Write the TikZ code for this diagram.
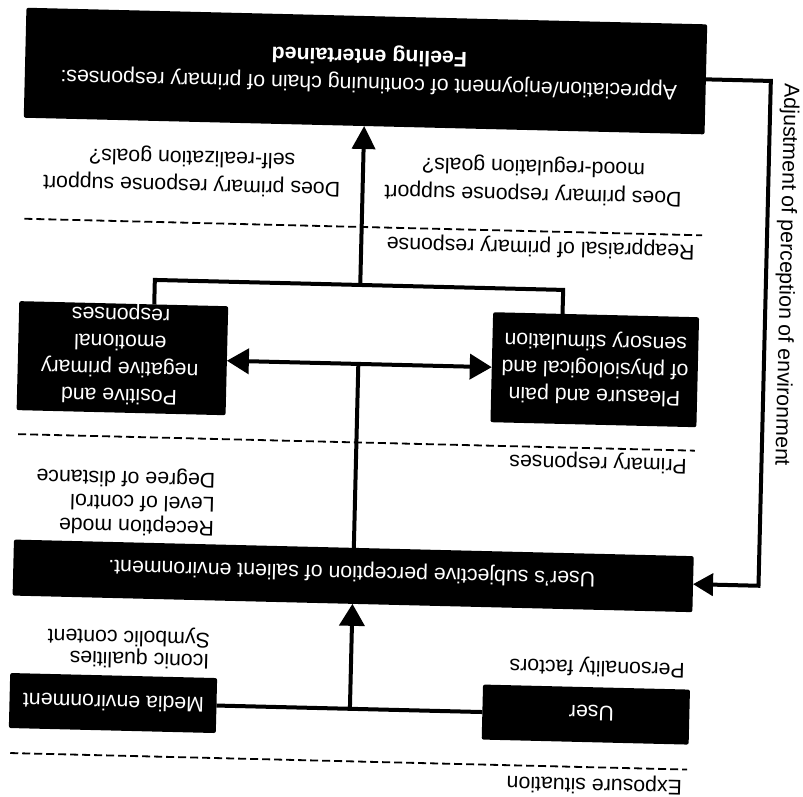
\documentclass[tikz,border=0pt]{standalone}
\usepackage{fontspec}
\setmainfont{Liberation Sans}
\usetikzlibrary{arrows.meta,calc}
\tikzset{
  blkbox/.style={fill=black, rounded corners=2pt, inner sep=0pt, outer sep=0pt},
  boxtext/.style={text=white, inner sep=0pt, align=center, rotate=180, font=\fontsize{21.3}{27}\selectfont},
  lbl/.style={inner sep=0pt, rotate=180, font=\fontsize{21.3}{27}\selectfont},
  conn/.style={line width=4pt},
  sepline/.style={line width=1.8pt, dash pattern=on 8pt off 4pt},
  bigtip/.style={-{Triangle[length=23pt,width=23pt]}},
}
\begin{document}
\begin{tikzpicture}[x=1pt,y=1pt]
\fill[white] (0,0) rectangle (803,-797);
\useasboundingbox (0,0) rectangle (803,-797);
\begin{scope}[rotate around={-1.4:(401.5,-398.5)}, transform shape]
  % boxes
  \node[blkbox, minimum width=681pt, minimum height=110pt] (top) at (357.5,-72) {};
  \node[blkbox, minimum width=209pt, minimum height=109pt] (left) at (121.5,-365) {};
  \node[blkbox, minimum width=206pt, minimum height=110pt] (right) at (594,-365) {};
  \node[blkbox, minimum width=680pt, minimum height=56pt] (subj) at (357.5,-577) {};
  \node[blkbox, minimum width=207pt, minimum height=55pt] (media) at (120.5,-710) {};
  \node[blkbox, minimum width=207pt, minimum height=55pt] (user) at (593.5,-710) {};
  % box texts
  \node[boxtext, font=\fontsize{21.3}{28}\selectfont] (toptxt) at (361,-70) {Appreciation/enjoyment of continuing chain of primary responses:\\\textbf{Feeling entertained}};
  \node[boxtext] (lefttxt) at (119,-361) {Positive and\\negative primary\\emotional\\responses};
  \node[boxtext] (righttxt) at (594.3,-363.3) {Pleasure and pain\\of physiological and\\sensory stimulation};
  \node[boxtext] (subjtxt) at (356,-573) {User's subjective perception of salient environment.};
  \node[boxtext] (mediatxt) at (121,-710) {Media environment};
  \node[boxtext] (usertxt) at (599,-708) {User};
  % separators
  \draw[sepline] (20,-228) -- (698,-228);
  \draw[sepline] (19,-443.5) -- (696,-443.5);
  \draw[sepline] (19,-762.5) -- (696,-762.5);
  % labels
  \node[lbl, align=center, font=\fontsize{21.3}{28}\selectfont] (q1) at (186.5,-176) {Does primary response support\\self-realization goals?};
  \node[lbl, align=center, font=\fontsize{21.3}{28}\selectfont] (q2) at (528,-177) {Does primary response support\\mood-regulation goals?};
  \node[lbl, anchor=west] (reap) at (691,-243.6) {Reappraisal of primary response};
  \node[lbl, anchor=west] (prim) at (688.6,-458) {Primary responses};
  \node[lbl, anchor=west] (expo) at (691.5,-779.5) {Exposure situation};
  \node[lbl, anchor=west] (pers) at (691.5,-662) {Personality factors};
  \node[lbl, anchor=west, align=left, font=\fontsize{21.3}{24}\selectfont] (recv) at (217.5,-508) {Reception mode\\Level of control\\Degree of distance};
  \node[lbl, anchor=west, align=left, font=\fontsize{21.3}{21.7}\selectfont] (icon) at (216,-654) {Iconic qualities\\Symbolic content};
  \node[inner sep=0pt, rotate=-90, font=\fontsize{21.3}{27}\selectfont] (adj) at (782.5,-265.5) {Adjustment of perception of environment};
  % connectors
  \coordinate (j1) at (357.5,-710);
  \coordinate (j2) at (357.5,-365);
  \coordinate (j3) at (357.5,-286);
  \coordinate (b1) at (152,-286);
  \coordinate (b2) at (560.5,-286);
  \coordinate (f1) at (763,-72);
  \coordinate (f2) at (763,-577);
  \draw[conn] (media.east) -- (user.west);
  \draw[conn, -{Triangle[length=22pt,width=25pt]}] (j1) -- (subj.south);
  \draw[conn] (subj.north) -- (j2);
  \draw[conn, {Triangle[length=22pt,width=25pt]}-{Triangle[length=22pt,width=25pt]}] (left.east) -- (right.west);
  \draw[conn] ($(left.north west)!0.646!(left.north east)$) -- (b1) -- (b2) -- ($(right.north west)!0.337!(right.north east)$);
  \draw[conn, bigtip] (j3) -- (top.south);
  \draw[conn, -{Triangle[length=20pt,width=22pt]}] (top.east) -- (f1) -- (f2) -- (subj.east);
\end{scope}
\end{tikzpicture}
\end{document}
